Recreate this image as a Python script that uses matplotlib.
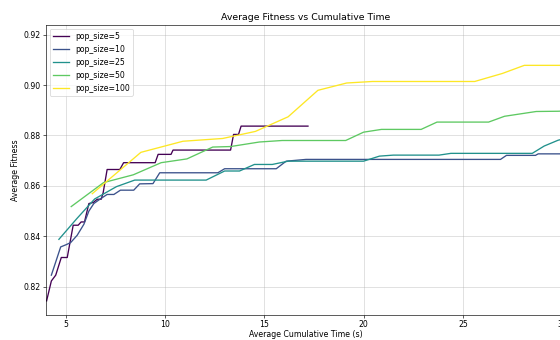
# Average fitness vs cumulative time, one curve per population size
import numpy as np
import matplotlib
matplotlib.use("Agg")
import matplotlib.pyplot as plt

POP_SIZES = [5, 10, 25, 50, 100]

# pop_size=5
t_5 = [4.03, 4.27, 4.49, 4.77, 5.07, 5.37, 5.62, 5.77, 5.94, 6.16, 6.38, 6.58,
       6.78, 6.88, 7.08, 7.72, 7.91, 9.50, 9.65, 10.30, 10.40, 13.30, 13.45,
       13.70, 13.83, 17.20]
f_5 = [0.8144, 0.8223, 0.8246, 0.8316, 0.8316, 0.8444, 0.8444, 0.8457, 0.8457,
       0.8530, 0.8534, 0.8547, 0.8547, 0.8573, 0.8665, 0.8665, 0.8692, 0.8692,
       0.8725, 0.8725, 0.8742, 0.8742, 0.8804, 0.8804, 0.8837, 0.8837]

# pop_size=10
t_10 = [4.27, 4.74, 4.99, 5.24, 5.57, 5.91, 6.16, 6.41, 6.75, 7.08, 7.42, 7.75,
        8.42, 8.72, 9.39, 9.73, 12.66, 13.00, 15.60, 16.10, 17.10, 26.90, 27.20,
        28.66, 28.80, 30.50]
f_10 = [0.8246, 0.8358, 0.8366, 0.8375, 0.8404, 0.8448, 0.8500, 0.8530, 0.8549,
        0.8566, 0.8566, 0.8583, 0.8583, 0.8608, 0.8609, 0.8652, 0.8652, 0.8668,
        0.8668, 0.8698, 0.8705, 0.8705, 0.8721, 0.8721, 0.8727, 0.8727]

# pop_size=25
t_25 = [4.65, 5.55, 6.45, 7.55, 8.47, 12.07, 13.00, 13.75, 14.50, 15.40, 16.20,
        20.00, 20.80, 21.50, 23.80, 24.40, 28.50, 29.10, 29.80, 30.50]
f_25 = [0.8388, 0.8470, 0.8548, 0.8597, 0.8623, 0.8623, 0.8659, 0.8659, 0.8685,
        0.8685, 0.8698, 0.8698, 0.8718, 0.8722, 0.8722, 0.8729, 0.8729, 0.8758,
        0.8781, 0.8795]

# pop_size=50
t_50 = [5.27, 6.90, 8.40, 9.80, 11.10, 12.40, 13.30, 14.75, 15.90, 19.10, 20.00,
        20.90, 22.90, 23.70, 26.30, 27.10, 28.70, 29.80, 30.50]
f_50 = [0.8518, 0.8613, 0.8644, 0.8692, 0.8707, 0.8754, 0.8756, 0.8774, 0.8780,
        0.8780, 0.8813, 0.8824, 0.8824, 0.8853, 0.8853, 0.8876, 0.8895, 0.8896,
        0.8898]

# pop_size=100
t_100 = [6.33, 8.78, 10.90, 12.90, 14.55, 16.20, 17.70, 19.15, 20.45, 25.60,
         27.00, 28.10, 30.50]
f_100 = [0.8569, 0.8733, 0.8777, 0.8788, 0.8816, 0.8874, 0.8979, 0.9008, 0.9014,
         0.9014, 0.9046, 0.9078, 0.9078]

TEMPS = [t_5, t_10, t_25, t_50, t_100]
FITS = [f_5, f_10, f_25, f_50, f_100]


def plot_fitness():
    fig = plt.figure(figsize=(10, 340 / 56), dpi=56)
    ax = fig.add_axes([46 / 560, 25 / 340, 520 / 560, 290 / 340])
    couleurs = plt.cm.viridis(np.linspace(0, 1, len(POP_SIZES)))

    for p, t, f, c in zip(POP_SIZES, TEMPS, FITS, couleurs):
        ax.plot(t, f, color=c, lw=1.7, label="pop_size=%d" % p)

    ax.set_title("Average Fitness vs Cumulative Time")
    ax.set_xlabel("Average Cumulative Time (s)", labelpad=2)
    ax.set_ylabel("Average Fitness")
    ax.set_xlim(4.0, 30.2)
    ax.set_ylim(0.8088, 0.9238)
    ax.set_yticks([0.82, 0.84, 0.86, 0.88, 0.90, 0.92])
    ax.set_xticks([5, 10, 15, 20, 25, 30])
    ax.tick_params(axis="x", pad=2.5)
    ax.grid(True, alpha=0.6)
    ax.legend(loc="upper left")

    fig.savefig("out.png", dpi=56)


if __name__ == "__main__":
    plot_fitness()
